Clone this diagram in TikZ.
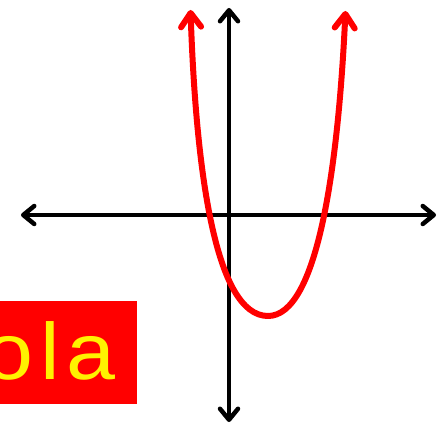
\documentclass[tikz,border=0pt]{standalone}
\usepackage{fontspec}
\setmainfont{Liberation Sans}
\usetikzlibrary{arrows.meta}
\begin{document}
\begin{tikzpicture}[x=1pt,y=-1pt,
  axisline/.style={line width=4.5pt,{Straight Barb[round,length=11pt,width=18pt]}-{Straight Barb[round,length=11pt,width=18pt]}},
  curveline/.style={line width=6pt,red,line cap=round,line join=round,{Straight Barb[round,length=14pt,width=20pt]}-{Straight Barb[round,length=14pt,width=20pt]}},
  labelbox/.style={fill=red,draw=none}]
\useasboundingbox (0,0) rectangle (445,425);
\coordinate (xl) at (21,215);
\coordinate (xr) at (436,215);
\coordinate (yt) at (229,8);
\coordinate (yb) at (229,422);
\coordinate (cl) at (190.5,10);
\coordinate (cv) at (268,316);
\coordinate (cr) at (345.5,11);
\draw[axisline] (xl) -- (xr);
\draw[axisline] (yt) -- (yb);
\draw[curveline] (cl) .. controls (196,170) and (215,316) .. (cv) .. controls (317,316) and (338,170) .. (cr);
\fill[labelbox] (0,301) rectangle (137,404);
\node[anchor=base west,inner sep=0,text=yellow,font=\fontsize{80}{80}\selectfont\addfontfeature{LetterSpace=8}] (lbl) at (-15.7,379) {\scalebox{1.1}[1]{ola}};
\end{tikzpicture}
\end{document}
